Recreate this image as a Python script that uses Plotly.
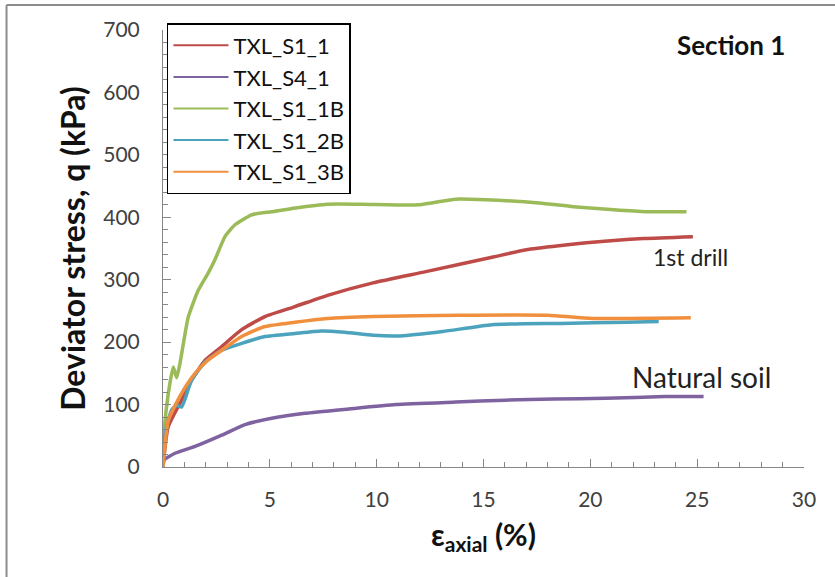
import plotly.graph_objects as go

# Triaxial test results, Section 1: axial strain (%) vs deviator stress q (kPa)
strain_s1_1 = [0, 0.24, 0.87, 1.34, 1.97, 2.75, 3.68, 4.77, 6.18, 7.7, 9.83, 12.3, 15.4, 17.0, 20.1, 22.5, 24.8]
q_s1_1 = [0, 64, 107, 139, 171, 193, 220, 241, 257, 275, 295, 313, 336, 348, 360, 366, 369]

strain_s4_1 = [0, 0.05, 0.56, 1.5, 2.75, 3.84, 5.09, 6.65, 8.7, 10.9, 13.7, 16.0, 18.3, 20.7, 23.5, 25.3]
q_s4_1 = [0, 11, 22, 33, 51, 68, 78, 86, 93, 100, 104, 107, 109, 110, 113, 113]

strain_s1_1b = [0, 0.05, 0.25, 0.48, 0.64, 0.8, 1.18, 1.65, 2.12, 2.43, 2.9, 3.37, 4.15, 5.09,
                6.2, 7.7, 9.3, 12.0, 13.7, 15.1, 17.6, 19.2, 21.1, 22.6, 24.5]
q_s1_1b = [0, 55, 118, 160, 143, 167, 240, 283, 311, 332, 369, 388, 404, 409,
           415, 421, 421, 420, 429, 428, 423, 417, 412, 409, 409]

strain_s1_2b = [0, 0.1, 0.4, 0.64, 0.87, 1.34, 1.97, 2.75, 3.68, 4.77, 6.18, 7.4, 8.5, 9.83,
                11.1, 13.1, 15.4, 18.6, 21.7, 23.2]
q_s1_2b = [0, 54, 91, 99, 96, 139, 168, 187, 198, 209, 214, 218, 216, 211,
           210, 217, 228, 230, 232, 233]

strain_s1_3b = [0, 0.25, 0.87, 1.5, 2.1, 2.75, 3.68, 4.77, 6.18, 7.7, 9.83, 13.9, 18.0, 20.1, 24.7]
q_s1_3b = [0, 75, 118, 150, 171, 187, 209, 225, 232, 238, 241, 243, 243, 238, 239]

series = [
    ("TXL_S1_1", strain_s1_1, q_s1_1, "#BE4B48"),
    ("TXL_S4_1", strain_s4_1, q_s4_1, "#7F63A1"),
    ("TXL_S1_1B", strain_s1_1b, q_s1_1b, "#9BBB59"),
    ("TXL_S1_2B", strain_s1_2b, q_s1_2b, "#4BA3BD"),
    ("TXL_S1_3B", strain_s1_3b, q_s1_3b, "#F0903F"),
]

x_ticks = [0, 5, 10, 15, 20, 25, 30]
y_ticks = [0, 100, 200, 300, 400, 500, 600, 700]

FONT = "Lato"

fig = go.Figure()
for name, xs, ys, color in series:
    # the curve itself
    fig.add_trace(go.Scatter(x=xs, y=ys, mode="lines", name=name, showlegend=False,
                             line=dict(color=color, width=3.5, shape="spline", smoothing=0.5)))
    # thin legend key
    fig.add_trace(go.Scatter(x=[None], y=[None], mode="lines", name=name,
                             line=dict(color=color, width=2)))

axis_common = dict(
    showgrid=False, zeroline=False, showline=True, linecolor="#868686", linewidth=1,
    ticks="inside", ticklen=8, tickcolor="#868686", tickwidth=1,
    tickfont=dict(family=FONT, size=21, color="#404040"),
)

fig.update_xaxes(
    range=[0, 30], tickvals=x_ticks, ticklabelstandoff=14,
    minor=dict(ticks="inside", ticklen=5, dtick=1, tickcolor="#868686"),
    title=dict(text="<b>ε<sub>axial</sub> (%)</b>", font=dict(family=FONT, size=30, color="#111"),
               standoff=14),
    **axis_common,
)
fig.update_yaxes(
    range=[0, 700], tickvals=y_ticks, ticklabelstandoff=18,
    minor=dict(ticks="inside", ticklen=5, dtick=20, tickcolor="#868686"),
    title=dict(text="<b>Deviator stress, q (kPa)</b>", font=dict(family=FONT, size=32, color="#111"),
               standoff=8),
    **axis_common,
)

# text labels inside the plot
fig.add_annotation(x=0.886, y=0.966, xref="paper", yref="paper", text="<b>Section 1</b>",
                   xanchor="center", yanchor="middle",
                   showarrow=False, font=dict(family=FONT, size=26, color="#111"))
fig.add_annotation(x=24.7, y=337, text="1st drill", showarrow=False,
                   xanchor="center", yanchor="middle",
                   font=dict(family=FONT, size=23, color="#222"))
fig.add_annotation(x=25.2, y=144, text="Natural soil", showarrow=False,
                   xanchor="center", yanchor="middle",
                   font=dict(family=FONT, size=28, color="#222"))

# outer frame (top and left edges)
fig.add_shape(type="line", xref="paper", yref="paper", x0=-0.2441, x1=1.06, y0=1.0572, y1=1.0572,
              line=dict(color="#8c8c8c", width=2))
fig.add_shape(type="line", xref="paper", yref="paper", x0=-0.2441, x1=-0.2441, y0=1.0572, y1=-0.26,
              line=dict(color="#8c8c8c", width=2))

fig.update_layout(
    width=835, height=577,
    margin=dict(l=163, r=31, t=30, b=110),
    paper_bgcolor="white", plot_bgcolor="white",
    legend=dict(x=0.0062, y=1.016, xanchor="left", yanchor="top",
                bgcolor="white", bordercolor="black", borderwidth=1.5,
                font=dict(family=FONT, size=22, color="#111"),
                itemwidth=55, tracegroupgap=0),
    showlegend=True,
)

fig.write_html("out.html")
